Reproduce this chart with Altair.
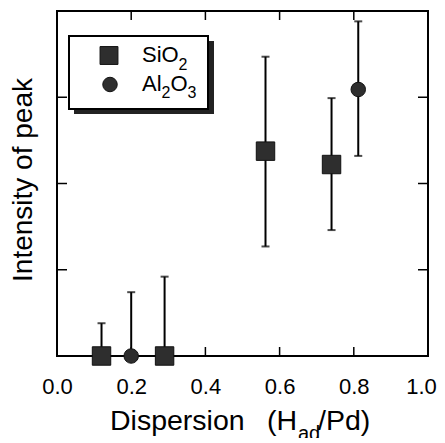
import altair as alt
import pandas as pd

FONT = "Liberation Sans"

# ---- data ----
sio2_x = [0.12, 0.29, 0.562, 0.740]
sio2_y = [0.0, 0.0, 2.375, 2.22]
sio2_lo = [0.0, 0.0, 1.27, 1.46]
sio2_hi = [0.38, 0.92, 3.47, 2.99]

al_x = [0.20, 0.812]
al_y = [0.0, 3.09]
al_lo = [0.0, 2.32]
al_hi = [0.74, 3.88]

series_names = ["SiO2", "Al2O3"]
x_label_values = [0.0, 0.2, 0.4, 0.6, 0.8, 1.0]
x_tick_values = [0.2, 0.4, 0.6, 0.8]
y_tick_values = [1, 2, 3]

x_title_parts = ["Dispersion", "(H", "ad", "/Pd)"]
y_title = "Intensity of peak"
legend_parts_si = ["SiO", "2"]
legend_parts_al = ["Al", "2", "O", "3"]

W, H = 371, 345
MARK = "#2e2e2e"

rows = []
for x, y, lo, hi in zip(sio2_x, sio2_y, sio2_lo, sio2_hi):
    rows.append({"x": x, "y": y, "lo": lo, "hi": hi, "s": series_names[0]})
for x, y, lo, hi in zip(al_x, al_y, al_lo, al_hi):
    rows.append({"x": x, "y": y, "lo": lo, "hi": hi, "s": series_names[1]})
df = pd.DataFrame(rows)

xs = alt.Scale(domain=[0, 1], nice=False, zero=False)
ys = alt.Scale(domain=[0, 4], nice=False, zero=False)
x_axis = alt.Axis(values=x_label_values, format=".1f", labelFontSize=22, labelFont=FONT,
                  labelColor="black", ticks=False, domain=False, grid=False, title=None,
                  labelPadding=20, labelFlush=False,
                  labelOffset={"condition": {"test": "datum.value >= 1", "value": -7}, "value": 0})
y_axis = alt.Axis(labels=False, ticks=False, domain=False, grid=False, title=None)

base = alt.Chart(df)

bars = base.mark_rule(color="black", strokeWidth=2).encode(
    x=alt.X("x:Q", scale=xs, axis=x_axis),
    y=alt.Y("lo:Q", scale=ys, axis=y_axis),
    y2="hi:Q",
)
caps_hi = base.mark_tick(color="black", thickness=2, size=8, orient="horizontal").encode(
    x=alt.X("x:Q", scale=xs, axis=x_axis),
    y=alt.Y("hi:Q", scale=ys, axis=y_axis),
)
caps_lo = base.transform_filter("datum.lo > 0").mark_tick(
    color="black", thickness=2, size=8, orient="horizontal").encode(
    x=alt.X("x:Q", scale=xs, axis=x_axis),
    y=alt.Y("lo:Q", scale=ys, axis=y_axis),
)
points = base.mark_point(filled=True, fill=MARK, stroke="#111", strokeWidth=1, opacity=1).encode(
    x=alt.X("x:Q", scale=xs, axis=x_axis),
    y=alt.Y("y:Q", scale=ys, axis=y_axis),
    shape=alt.Shape("s:N", scale=alt.Scale(domain=series_names, range=["square", "circle"]), legend=None),
    size=alt.Size("s:N", scale=alt.Scale(domain=series_names, range=[340, 210]), legend=None),
)

# inward ticks
xt = pd.DataFrame({"v": x_tick_values})
yt = pd.DataFrame({"v": y_tick_values})
tick_bottom = alt.Chart(xt).mark_rule(color="black", strokeWidth=1.5).encode(
    x=alt.X("v:Q", scale=xs, axis=x_axis), y=alt.value(H), y2=alt.value(H - 9))
tick_top = alt.Chart(xt).mark_rule(color="black", strokeWidth=1.5).encode(
    x=alt.X("v:Q", scale=xs, axis=x_axis), y=alt.value(0), y2=alt.value(9))
tick_left = alt.Chart(yt).mark_rule(color="black", strokeWidth=1.5).encode(
    y=alt.Y("v:Q", scale=ys, axis=y_axis), x=alt.value(0), x2=alt.value(10))
tick_right = alt.Chart(yt).mark_rule(color="black", strokeWidth=1.5).encode(
    y=alt.Y("v:Q", scale=ys, axis=y_axis), x=alt.value(W), x2=alt.value(W - 10))


def txt(s, x, y, size, angle=0, align="left", baseline="alphabetic"):
    return alt.Chart(pd.DataFrame({"t": [s]})).mark_text(
        font=FONT, fontSize=size, angle=angle, align=align, baseline=baseline, color="black"
    ).encode(text="t:N", x=alt.value(x), y=alt.value(y))


def box(x1, y1, x2, y2, fill, stroke=None, sw=0):
    kw = dict(fill=fill)
    if stroke:
        kw.update(stroke=stroke, strokeWidth=sw)
    return alt.Chart(pd.DataFrame({"a": [0]})).mark_rect(**kw).encode(
        x=alt.value(x1), x2=alt.value(x2), y=alt.value(y1), y2=alt.value(y2))


def sym(shape, x, y, size):
    return alt.Chart(pd.DataFrame({"a": [0]})).mark_point(
        shape=shape, filled=True, fill=MARK, stroke="#111", strokeWidth=1, size=size, opacity=1
    ).encode(x=alt.value(x), y=alt.value(y))


legend = [
    box(17, 30, 157, 103, "#222"),
    box(12, 25, 151, 98, "white", "black", 2),
    sym("square", 52, 44.5, 320),
    sym("circle", 53, 73.5, 210),
    txt(legend_parts_si[0], 85, 51, 22),
    txt(legend_parts_si[1], 121.5, 59, 16),
    txt(legend_parts_al[0], 85, 80, 22),
    txt(legend_parts_al[1], 104.6, 87, 16),
    txt(legend_parts_al[2], 113.5, 80, 22),
    txt(legend_parts_al[3], 130.6, 87, 16),
]

titles = [
    txt(x_title_parts[0], 53, 419, 28.5),
    txt(x_title_parts[1], 210, 419, 28.5),
    txt(x_title_parts[2], 241, 429, 20),
    txt(x_title_parts[3], 261, 419, 28.5),
    txt(y_title, -25, 169, 28, angle=270, align="center"),
]

chart = alt.layer(
    tick_bottom, tick_top, tick_left, tick_right,
    bars, caps_hi, caps_lo, points,
    *legend, *titles,
).properties(
    width=W, height=H,
    autosize=alt.AutoSizeParams(type="none"),
    padding={"left": 49, "top": 3, "right": 9, "bottom": 82},
).configure_view(stroke="black", strokeWidth=2)

chart.save("out.html", embed_options={"renderer": "svg", "actions": False})
